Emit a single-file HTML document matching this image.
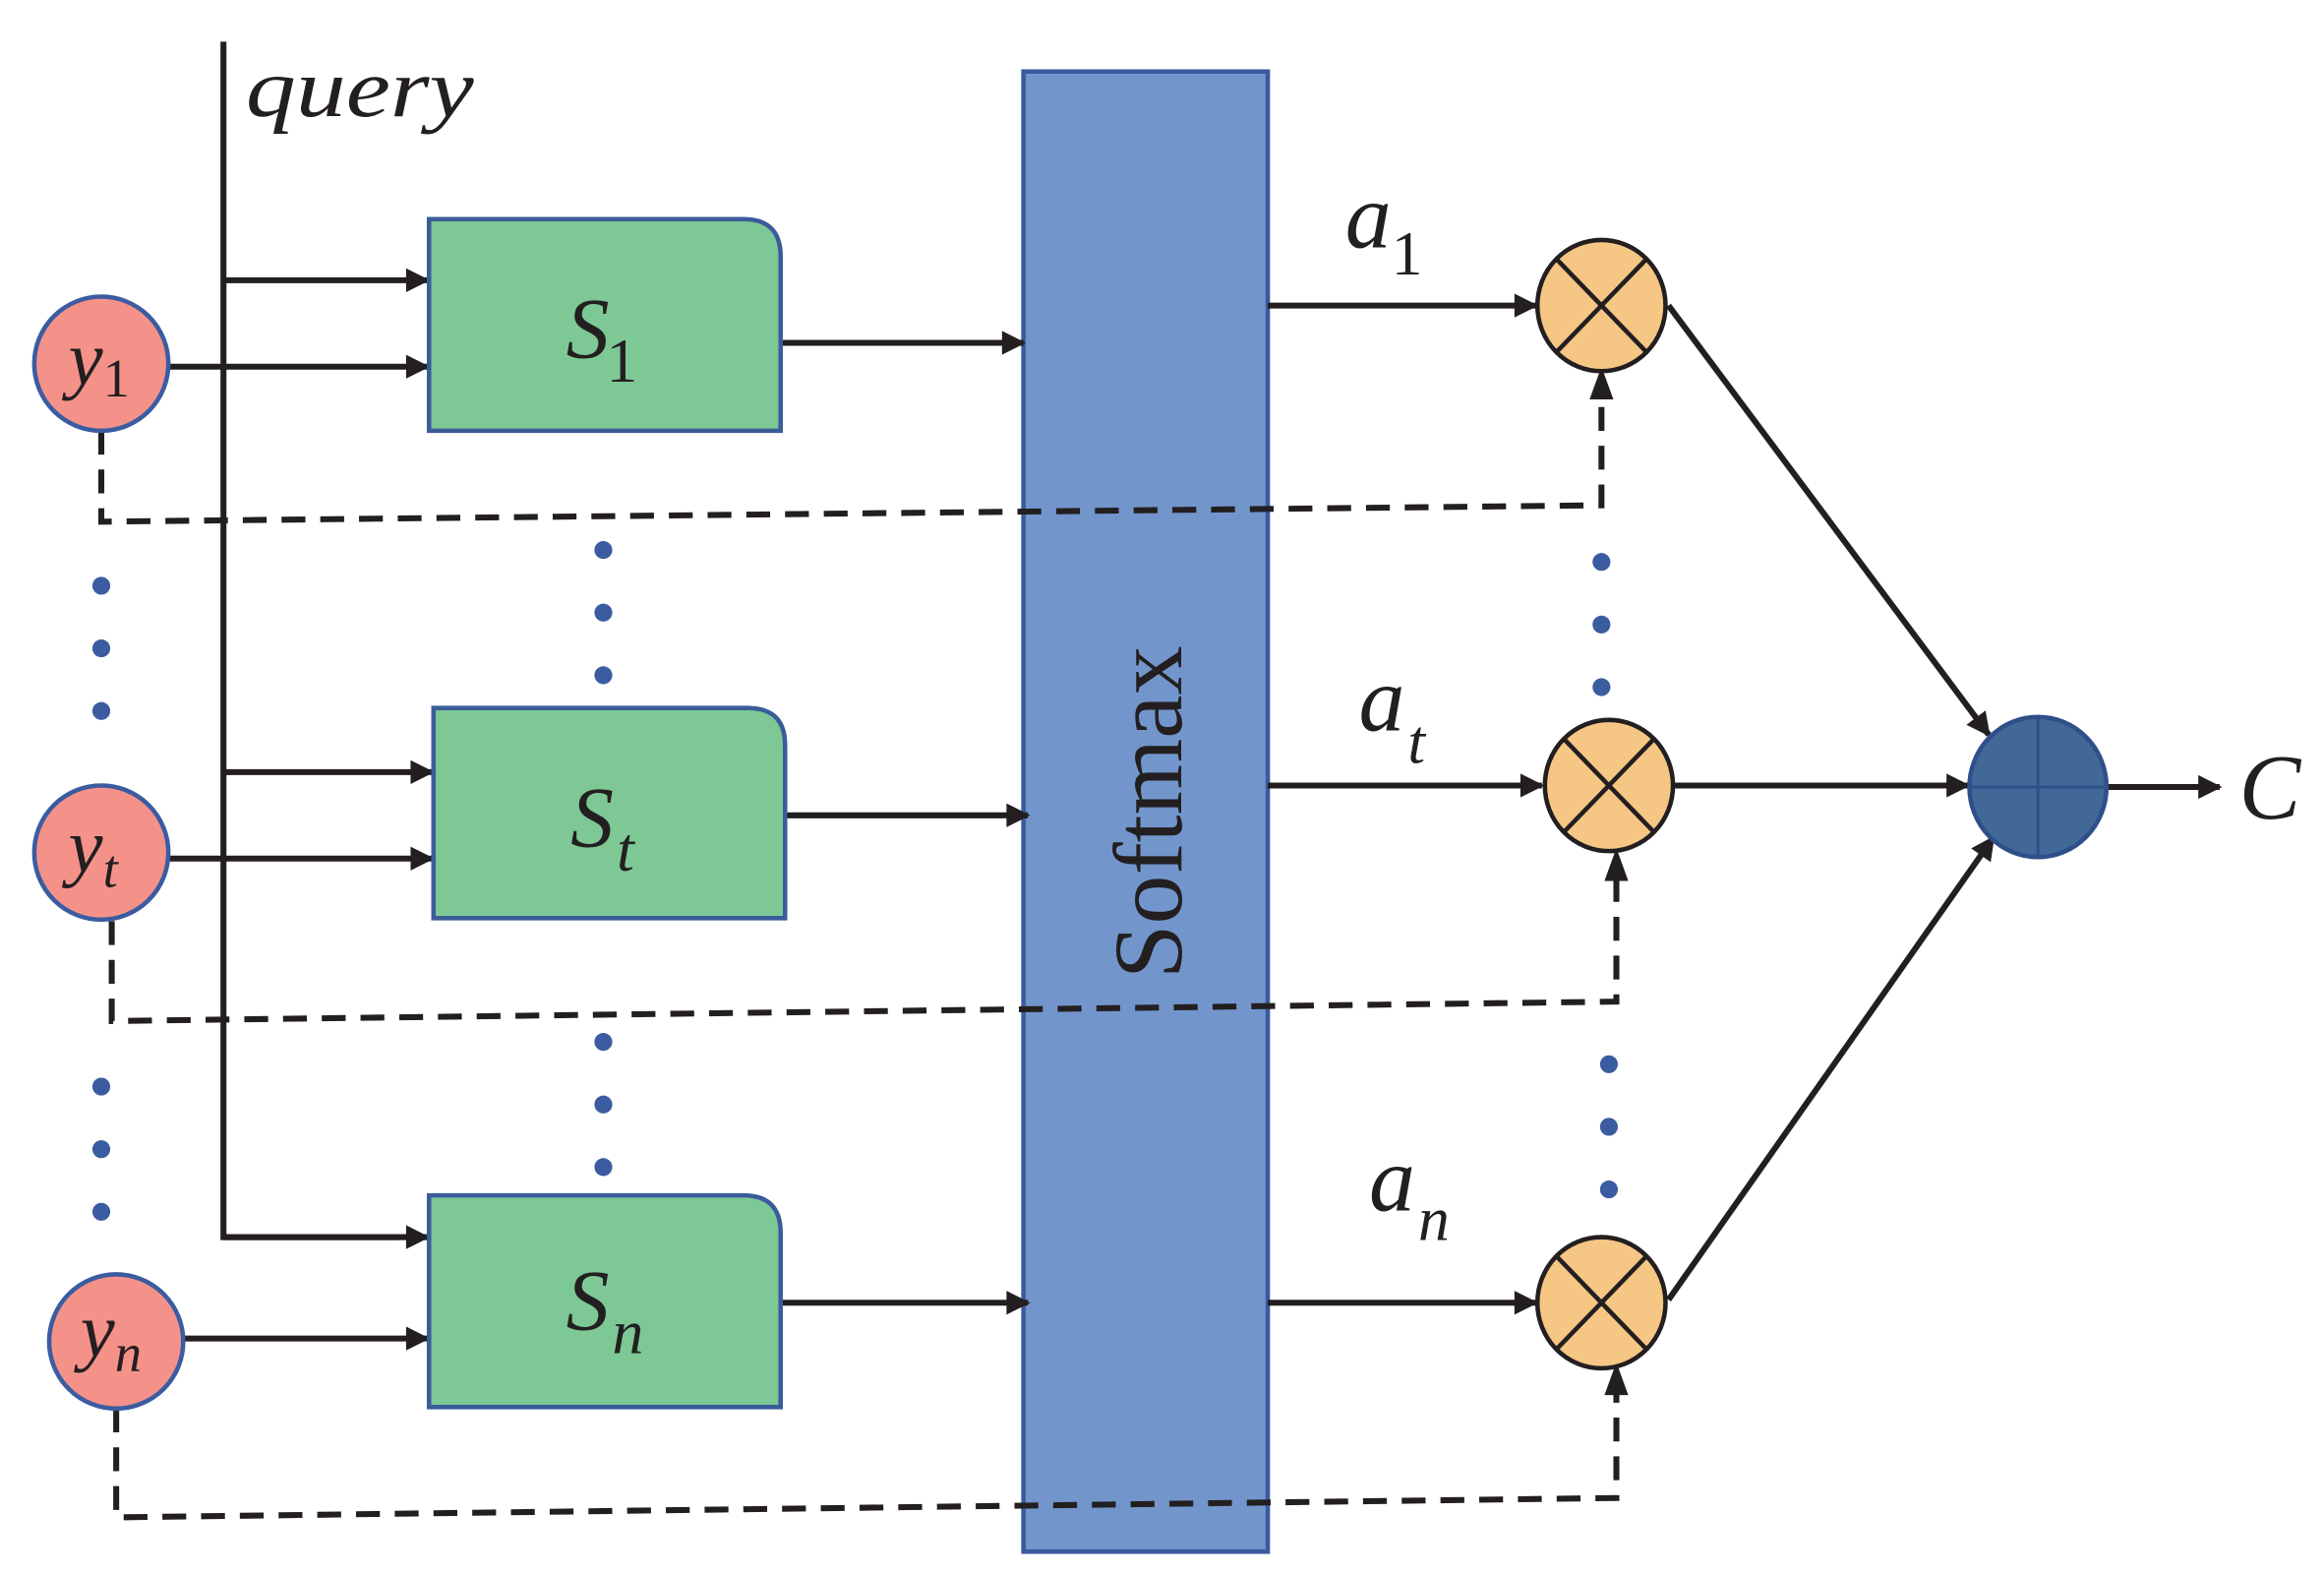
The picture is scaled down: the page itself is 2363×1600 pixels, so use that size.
<!DOCTYPE html>
<html><head><meta charset="utf-8"><style>
html,body{margin:0;padding:0;background:#fff;}
svg{display:block;}
text{font-family:"Liberation Serif",serif;fill:#231f20;}
</style></head><body>
<svg width="2363" height="1600" viewBox="0 0 1560 1056" preserveAspectRatio="none" xmlns="http://www.w3.org/2000/svg">
<defs>
<marker id="a" viewBox="0 0 10 10" refX="9" refY="5" markerWidth="22" markerHeight="16" markerUnits="userSpaceOnUse" orient="auto"><path d="M0,0 L10,5 L0,10 z" fill="#231f20"/></marker>
</defs>
<rect x="687" y="48" width="164" height="993" fill="#7296cb" stroke="#3a5a9e" stroke-width="3"/>
<text transform="translate(793,545) rotate(-90)" text-anchor="middle" font-size="66">Softmax</text>
<g fill="none" stroke="#231f20" stroke-width="4" stroke-dasharray="16,10">
<polyline points="68,289 68,350 1075,339 1075,262"/>
<polyline points="75,618 75,685 1085,672 1085,585"/>
<polyline points="78,945 78,1018 1085,1005 1085,930"/>
</g>
<g fill="#231f20">
<path d="M1067,268 L1075,246 L1083,268 z"/>
<path d="M1077,591 L1085,569 L1093,591 z"/>
<path d="M1077,936 L1085,914 L1093,936 z"/>
</g>
<polyline points="150,28 150,830 268,830" fill="none" stroke="#231f20" stroke-width="4"/>
<text transform="translate(165,78) scale(1.2,1)" font-size="56" font-style="italic">query</text>
<g stroke="#231f20" stroke-width="4" marker-end="url(#a)">
<line x1="150" y1="188" x2="287" y2="188"/>
<line x1="113" y1="246" x2="287" y2="246"/>
<line x1="150" y1="518" x2="290" y2="518"/>
<line x1="113" y1="576" x2="290" y2="576"/>
<line x1="150" y1="830" x2="287" y2="830"/>
<line x1="123" y1="898" x2="287" y2="898"/>
<line x1="524" y1="230" x2="687" y2="230"/>
<line x1="527" y1="547" x2="690" y2="547"/>
<line x1="524" y1="874" x2="690" y2="874"/>
<line x1="851" y1="205" x2="1031" y2="205"/>
<line x1="851" y1="527" x2="1035" y2="527"/>
<line x1="851" y1="874" x2="1031" y2="874"/>
<line x1="1120" y1="205" x2="1335" y2="493"/>
<line x1="1124" y1="527" x2="1321" y2="527"/>
<line x1="1120" y1="872" x2="1338" y2="562"/>
<line x1="1414" y1="528" x2="1490" y2="528"/>
</g>
<g fill="#7dc895" stroke="#3b5c9a" stroke-width="3">
<path d="M288,147 H499 Q524,147 524,172 V289 H288 Z"/>
<path d="M291,475 H502 Q527,475 527,500 V616 H291 Z"/>
<path d="M288,802 H499 Q524,802 524,827 V944 H288 Z"/>
</g>
<text x="380" y="240" font-size="58" font-style="italic">S<tspan font-size="42" font-style="normal" dx="-2" dy="16">1</tspan></text>
<text x="383" y="568" font-size="58" font-style="italic">S<tspan font-size="42" dx="2" dy="16">t</tspan></text>
<text x="380" y="892" font-size="58" font-style="italic">S<tspan font-size="42" dx="2" dy="16">n</tspan></text>
<g fill="#f4928a" stroke="#3b5ca0" stroke-width="3">
<circle cx="68" cy="244" r="45"/>
<circle cx="68" cy="572" r="45"/>
<circle cx="78" cy="900" r="45"/>
</g>
<text x="46" y="258" font-size="52" font-style="italic">y<tspan font-size="36" font-style="normal" dy="8">1</tspan></text>
<text x="46" y="585" font-size="52" font-style="italic">y<tspan font-size="36" dy="10">t</tspan></text>
<text x="54" y="910" font-size="52" font-style="italic">y<tspan font-size="36" dy="10">n</tspan></text>
<g fill="#f6c685" stroke="#231f20" stroke-width="3">
<ellipse cx="1075" cy="205" rx="43" ry="44"/>
<ellipse cx="1080" cy="527" rx="43" ry="44"/>
<ellipse cx="1075" cy="874" rx="43" ry="44"/>
</g>
<g stroke="#231f20" stroke-width="3">
<path d="M1045,174 L1105,236 M1105,174 L1045,236"/>
<path d="M1050,496 L1110,558 M1110,496 L1050,558"/>
<path d="M1045,843 L1105,905 M1105,843 L1045,905"/>
</g>
<ellipse cx="1368" cy="528" rx="46" ry="47" fill="#426897" stroke="#2f4f8a" stroke-width="3"/>
<path d="M1368,481 V575 M1322,528 H1414" stroke="#2f4f8a" stroke-width="2"/>
<text x="1503" y="549" font-size="62" font-style="italic">C</text>
<text x="903" y="166" font-size="62" font-style="italic">a<tspan font-size="42" font-style="normal" dy="18">1</tspan></text>
<text x="912" y="490" font-size="62" font-style="italic">a<tspan font-size="42" dx="2" dy="22">t</tspan></text>
<text x="919" y="812" font-size="62" font-style="italic">a<tspan font-size="42" dx="2" dy="20">n</tspan></text>
<g fill="#3b5ca0">
<circle cx="68" cy="393" r="6"/><circle cx="68" cy="435" r="6"/><circle cx="68" cy="477" r="6"/>
<circle cx="405" cy="369" r="6"/><circle cx="405" cy="411" r="6"/><circle cx="405" cy="453" r="6"/>
<circle cx="1075" cy="377" r="6"/><circle cx="1075" cy="419" r="6"/><circle cx="1075" cy="461" r="6"/>
<circle cx="68" cy="729" r="6"/><circle cx="68" cy="771" r="6"/><circle cx="68" cy="813" r="6"/>
<circle cx="405" cy="699" r="6"/><circle cx="405" cy="741" r="6"/><circle cx="405" cy="783" r="6"/>
<circle cx="1080" cy="714" r="6"/><circle cx="1080" cy="756" r="6"/><circle cx="1080" cy="798" r="6"/>
</g>
</svg>
</body></html>
